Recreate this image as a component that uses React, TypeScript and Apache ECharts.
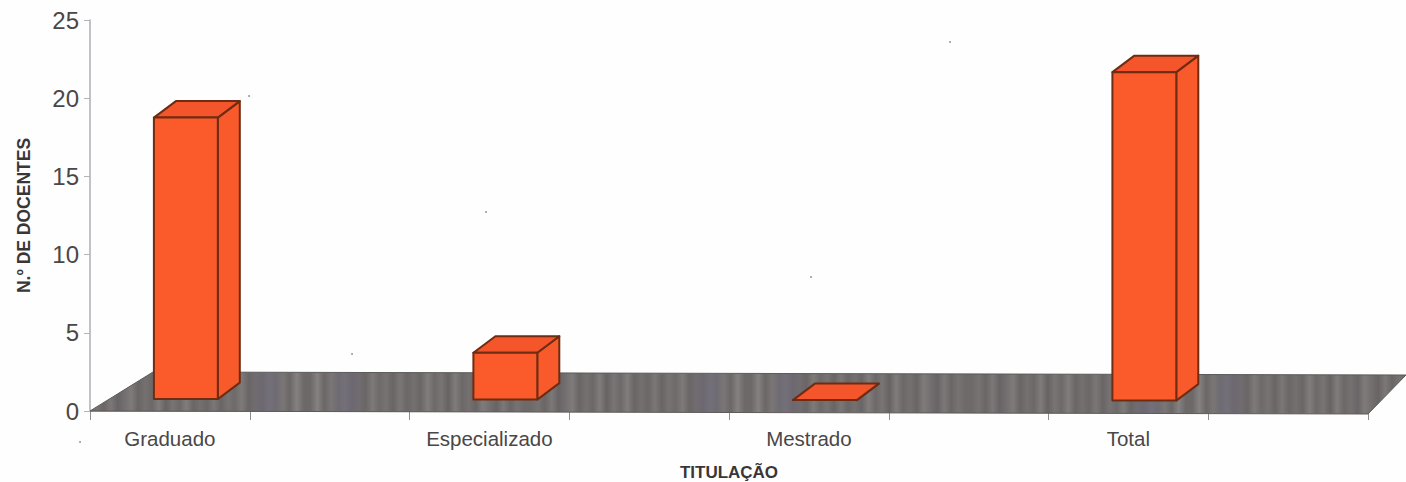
import React, { useEffect, useRef } from "react";
import * as echarts from "echarts";

const categories = ["Graduado", "", "Especializado", "", "Mestrado", "", "Total", ""];
const docentes = [18, null, 3, null, 0, null, 21, null];
const yTicks = { min: 0, max: 25, interval: 5 };
const floorStreaks = [
  "#6e6a6a", "#777373", "#6a6666", "#7d7878", "#686465", "#736f70", "#7f7b7a", "#696566",
  "#757171", "#6c6868", "#807c7b", "#676364", "#797575", "#6d696a", "#817d7c", "#6a6667",
  "#747070", "#6b6767", "#7b7777", "#696565", "#777373", "#6e6a6b", "#7e7a79", "#6a6666",
  "#706c70", "#6d6870", "#73707a", "#6f6b72", "#7a7676", "#6b6767", "#858180", "#6d6969",
];
const specks = [[249, 96], [950, 42], [486, 212], [811, 277], [352, 354], [80, 442]];

const DEPTH_FLOOR = [63, -39];
const DEPTH_BAR = [22, -16.5];
const FLOOR_TILT = 3;
const BAR_TILT = 2;
const INSET_Y = -12;

export default function App() {
  const ref = useRef<HTMLDivElement>(null);
  useEffect(() => {
    const chart = echarts.init(ref.current!, null, { renderer: "svg" });
    const barData = docentes
      .map((v, i) => [i, v])
      .filter((d) => d[1] !== null);
    chart.setOption({
      animation: false,
      backgroundColor: "#fefefe",
      grid: { left: 90, top: 20, width: 1278, height: 391, containLabel: false, outerBoundsMode: "none" },
      xAxis: {
        type: "category",
        data: categories,
        name: "TITULAÇÃO",
        nameLocation: "middle",
        nameGap: 53,
        nameTextStyle: { fontFamily: "Liberation Sans", fontSize: 17, fontWeight: "bold", color: "#3a3635" },
        axisLine: { lineStyle: { color: "#b5b3b3", width: 1 } },
        axisTick: { show: true, alignWithLabel: false, length: 9, lineStyle: { color: "#8f8d8d" } },
        axisLabel: {
          interval: 0,
          margin: 17,
          fontFamily: "Liberation Sans",
          fontSize: 20.5,
          color: "#4a4746",
        },
        splitLine: { show: false },
      },
      yAxis: {
        type: "value",
        min: yTicks.min,
        max: yTicks.max,
        interval: yTicks.interval,
        name: "N.º DE DOCENTES",
        nameLocation: "middle",
        nameGap: 57,
        nameTextStyle: { fontFamily: "Liberation Sans", fontSize: 17.5, fontWeight: "bold", color: "#3a3635" },
        axisLine: { show: true, lineStyle: { color: "#adadb8", width: 1.5 } },
        axisTick: { show: true, length: 6, lineStyle: { color: "#b5b3b3" } },
        axisLabel: { margin: 11, fontFamily: "Liberation Sans", fontSize: 24, color: "#4a4746" },
        splitLine: { show: false },
      },
      graphic: specks.map(([x, y]) => ({
        type: "circle",
        shape: { cx: x, cy: y, r: 0.9 },
        style: { fill: "#8a8a8a" },
        silent: true,
      })),
      series: [
        {
          type: "custom",
          z: 1,
          silent: true,
          data: [[0, 0]],
          renderItem: (params: any, api: any) => {
            const cs = params.coordSys;
            const x0 = cs.x;
            const x1 = cs.x + cs.width;
            const y0 = cs.y + cs.height;
            const rev = floorStreaks.slice().reverse();
            const colors = [
              ...floorStreaks, ...rev, ...floorStreaks, ...rev, ...floorStreaks, ...rev,
            ];
            const stops = colors.map((color, i) => ({
              offset: i / (colors.length - 1),
              color,
            }));
            return {
              type: "polygon",
              shape: {
                points: [
                  [x0, y0],
                  [x1, y0 + FLOOR_TILT],
                  [x1 + DEPTH_FLOOR[0] - 25, y0 + FLOOR_TILT + DEPTH_FLOOR[1]],
                  [x0 + DEPTH_FLOOR[0], y0 + DEPTH_FLOOR[1]],
                ],
              },
              style: {
                fill: new echarts.graphic.LinearGradient(0, 0, 1, 0, stops),
                stroke: "#5e5a5a",
                lineWidth: 1,
              },
            };
          },
        },
        {
          type: "custom",
          z: 2,
          silent: true,
          data: barData,
          encode: { x: 0, y: 1 },
          renderItem: (params: any, api: any) => {
            const cs = params.coordSys;
            const idx = api.value(0);
            const val = api.value(1);
            const band = api.size([1, 0])[0];
            const w = band * 0.4;
            const base = api.coord([idx, 0]);
            const top = api.coord([idx, val]);
            const xL = base[0] - band * 0.1;
            const xR = xL + w;
            const tilt = (BAR_TILT * (xL - cs.x)) / cs.width;
            const yB = base[1] + tilt + INSET_Y;
            const yT = top[1] + tilt + INSET_Y;
            const [dx, dy] = DEPTH_BAR;
            const stroke = "#6e2c12";
            const mk = (points: number[][], fill: string) => ({
              type: "polygon",
              shape: { points },
              style: { fill, stroke, lineWidth: 2, lineJoin: "round" },
            });
            return {
              type: "group",
              children: [
                mk([[xR, yB], [xR + dx, yB + dy], [xR + dx, yT + dy], [xR, yT]], "#f95a2c"),
                mk([[xL, yT], [xR, yT], [xR + dx, yT + dy], [xL + dx, yT + dy]], "#f4552a"),
                mk([[xL, yB], [xR, yB], [xR, yT], [xL, yT]], "#fb5a2b"),
              ],
            };
          },
        },
      ],
    });
    return () => chart.dispose();
  }, []);
  return (
    <div
      ref={ref}
      style={{ position: "absolute", left: 0, top: 0, width: 1406, height: 482 }}
    />
  );
}
